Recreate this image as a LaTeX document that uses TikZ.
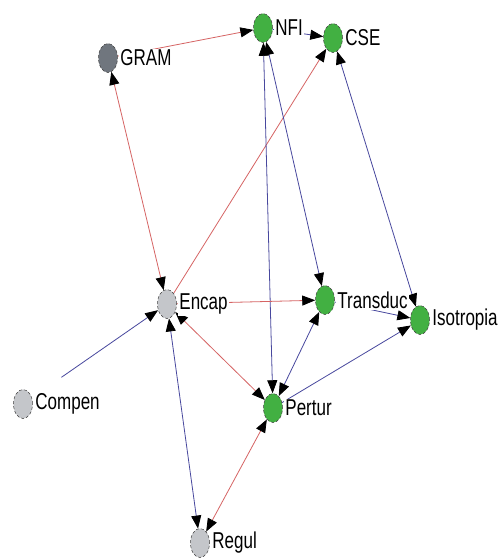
\documentclass[tikz,border=0pt]{standalone}
\usepackage{fontspec}
\setmainfont{Liberation Sans}
\usetikzlibrary{shapes.geometric,arrows.meta,backgrounds}
\definecolor{vgreen}{RGB}{66,176,66}
\definecolor{vgray}{RGB}{196,198,202}
\definecolor{vdark}{RGB}{112,118,126}
\definecolor{ered}{RGB}{214,100,100}
\definecolor{eblue}{RGB}{72,72,158}

\begin{document}
\begin{tikzpicture}[x=1pt,y=-1pt,
    var/.style={ellipse,draw=black!75,densely dashed,line width=.5pt,inner sep=0pt,
      minimum width=19pt,minimum height=29pt},
    lab/.style={anchor=west,fill=white,inner sep=1pt,xshift=1.5pt,
      font=\fontsize{17}{17}\selectfont,yscale=1.35,transform shape},
    rd/.style={ered,line width=.8pt},
    bl/.style={eblue,line width=.8pt},
    >={Triangle[length=13pt,width=10pt,color=black]}]
    \useasboundingbox(0,0)rectangle(502,558);
    % variables
    \node[var,fill=vdark](gram)at(108,58){};
    \node[var,fill=vgreen](nfi)at(263,28){};
    \node[var,fill=vgreen](cse)at(333,38){};
    \node[var,fill=vgray](encap)at(167,304){};
    \node[var,fill=vgreen](transduc)at(325,300){};
    \node[var,fill=vgreen](isotropia)at(420,320){};
    \node[var,fill=vgray](compen)at(23,404){};
    \node[var,fill=vgreen](pertur)at(273,408){};
    \node[var,fill=vgray](regul)at(200,543){};
    \node[lab](gramL)at(gram.east){GRAM};
    \node[lab](nfiL)at(nfi.east){NFI};
    \node[lab](cseL)at(cse.east){CSE};
    \node[lab](encapL)at(encap.east){Encap};
    \node[lab](transducL)at(transduc.east){Transduc};
    \node[lab](isotropiaL)at(isotropia.east){Isotropia};
    \node[lab](compenL)at(compen.east){Compen};
    \node[lab](perturL)at(pertur.east){Pertur};
    \node[lab](regulL)at(regul.east){Regul};
    % links
    \begin{pgfonlayer}{background}
      \fill[white](0,0)rectangle(502,558);
      \draw[rd,->](gram)--(nfi);
      \draw[bl,->](nfi)--(cse);
      \draw[rd,<->](encap)--(gram);
      \draw[rd,->](encap)--(cse);
      \draw[bl,<->](nfi)--(pertur);
      \draw[bl,<->](nfi)--(transduc);
      \draw[bl,<->](cse)--(isotropia);
      \draw[rd,->](encap)--(transduc);
      \draw[bl,->,shorten <=36pt](compen)--(encap);
      \draw[rd,<->](encap)--(pertur);
      \draw[bl,<->](pertur)--(transduc);
      \draw[bl,->](pertur)--(isotropia);
      \draw[bl,->](transduc)--(isotropia);
      \draw[bl,<->](encap)--(regul);
      \draw[rd,<->](regul)--(pertur);
    \end{pgfonlayer}
  \end{tikzpicture}
\end{document}
